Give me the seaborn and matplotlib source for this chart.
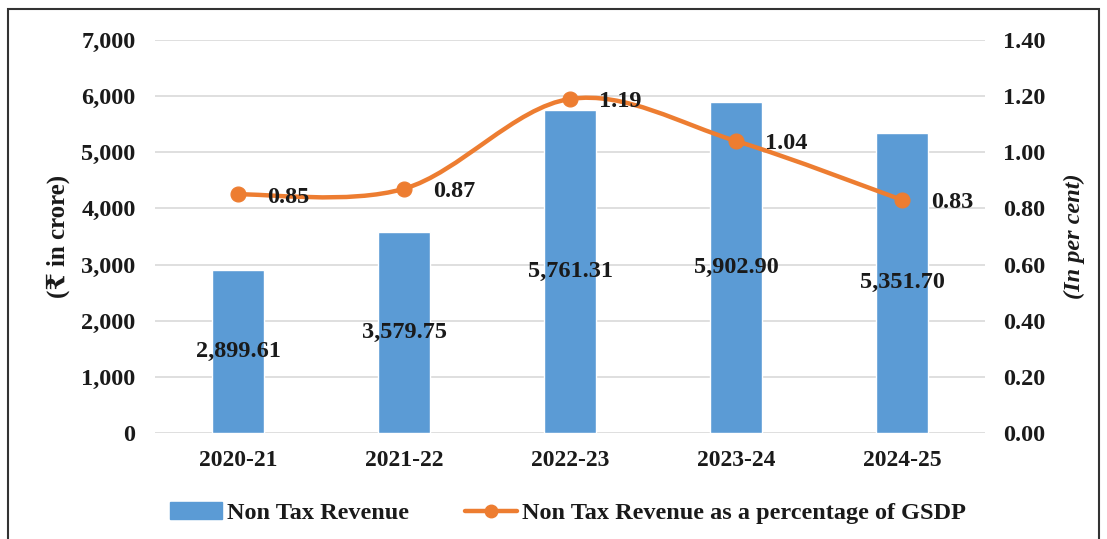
import numpy as np
import pandas as pd
import matplotlib
matplotlib.use("Agg")
import matplotlib.pyplot as plt
import seaborn as sns
from matplotlib.path import Path
from matplotlib.patches import PathPatch, Rectangle
from matplotlib.lines import Line2D
from matplotlib.patches import Patch

years = ["2020-21", "2021-22", "2022-23", "2023-24", "2024-25"]
non_tax_revenue = [2899.61, 3579.75, 5761.31, 5902.90, 5351.70]
pct_gsdp = [0.85, 0.87, 1.19, 1.04, 0.83]
left_ticks = [0, 1000, 2000, 3000, 4000, 5000, 6000, 7000]
right_ticks = [0.0, 0.2, 0.4, 0.6, 0.8, 1.0, 1.2, 1.4]

sns.set_theme(style="white")
plt.rcParams['font.family'] = ['Liberation Serif', 'DejaVu Serif', 'DejaVu Sans']
plt.rcParams['font.weight'] = 'bold'

BLUE = "#5B9BD5"
ORANGE = "#ED7D31"
TXT = "#1a1a1a"

fig = plt.figure(figsize=(11.07, 5.39), dpi=100)
ax = fig.add_axes([0.140, 0.1967, 0.750, 0.7291])

df = pd.DataFrame({"year": years, "rev": non_tax_revenue, "pct": pct_gsdp})
sns.barplot(data=df, x="year", y="rev", color=BLUE, saturation=1, width=0.31, ax=ax, zorder=2)
ax.set_ylim(0, 7000)
ax.set_xlim(-0.5, 4.5)
ax.set_yticks(left_ticks)
ax.set_yticklabels([f"{v:,.0f}" for v in left_ticks], fontsize=17.5, fontweight='bold', color=TXT)
ax.set_xticks(range(len(years)))
ax.set_xticklabels(years, fontsize=17, fontweight='bold', color=TXT)
ax.set_xlabel("")
ax.set_ylabel("(₹ in crore)", fontsize=18, fontweight='bold', labelpad=8, color=TXT)
ax.grid(axis='y', color="#D9D9D9", linewidth=1.2, zorder=0)
ax.set_axisbelow(True)
for s in ax.spines.values():
    s.set_visible(False)
ax.tick_params(axis='y', length=0, pad=14)
ax.tick_params(axis='x', length=0, pad=12)

for i, v in enumerate(non_tax_revenue):
    ax.text(i, v / 2, f"{v:,.2f}", ha='center', va='center', fontsize=17.5,
            fontweight='bold', color=TXT, zorder=5)

ax2 = ax.twinx()
ax2.set_ylim(0, 1.4)
ax2.set_yticks(right_ticks)
ax2.set_yticklabels([f"{v:.2f}" for v in right_ticks], fontsize=17.5, fontweight='bold', color=TXT)
for s in ax2.spines.values():
    s.set_visible(False)
ax2.tick_params(axis='y', length=0, pad=13)
ax2.set_ylabel("(In per cent)", fontsize=17.5, fontweight='bold', style='italic',
               rotation=90, labelpad=13, color=TXT)

# smoothed line (Excel-style) via Catmull-Rom Bezier segments
xs = np.arange(len(pct_gsdp), dtype=float)
ys = np.array(pct_gsdp, dtype=float)
P = np.column_stack([xs, ys])
verts = [tuple(P[0])]
codes = [Path.MOVETO]
n = len(P)
for i in range(n - 1):
    p0 = P[i - 1] if i > 0 else P[i]
    p1 = P[i]
    p2 = P[i + 1]
    p3 = P[i + 2] if i + 2 < n else P[i + 1]
    c1 = p1 + (p2 - p0) / 6.0
    c2 = p2 - (p3 - p1) / 6.0
    verts += [tuple(c1), tuple(c2), tuple(p2)]
    codes += [Path.CURVE4, Path.CURVE4, Path.CURVE4]
path = Path(verts, codes)
ax2.add_patch(PathPatch(path, facecolor='none', edgecolor=ORANGE, linewidth=3.2,
                        capstyle='round', zorder=3))
sns.scatterplot(x=xs, y=ys, ax=ax2, color=ORANGE, s=115, edgecolor=ORANGE, zorder=4, legend=False)

for i, v in enumerate(pct_gsdp):
    ax2.annotate(f"{v:.2f}", (i, v), xytext=(21, -2), textcoords='offset points',
                 ha='left', va='center', fontsize=17.5, fontweight='bold', color=TXT, zorder=5)

handles = [Patch(facecolor=BLUE, edgecolor=BLUE),
           Line2D([0], [0], color=ORANGE, linewidth=3.2, marker='o', markersize=9)]
leg = fig.legend(handles, ["Non Tax Revenue", "Non Tax Revenue as a percentage of GSDP"],
                 loc='center', bbox_to_anchor=(0.513, 0.048), ncol=2, frameon=False,
                 prop={'size': 17.5, 'weight': 'bold'}, columnspacing=2.3, handlelength=2.15,
                 handletextpad=0.2)
for t in leg.get_texts():
    t.set_color(TXT)

fig.patches.append(Rectangle((0.0075, -0.1), 0.985, 1.083, transform=fig.transFigure,
                             fill=False, edgecolor='#333333', linewidth=1.5))

fig.savefig("out.png", dpi=100)
